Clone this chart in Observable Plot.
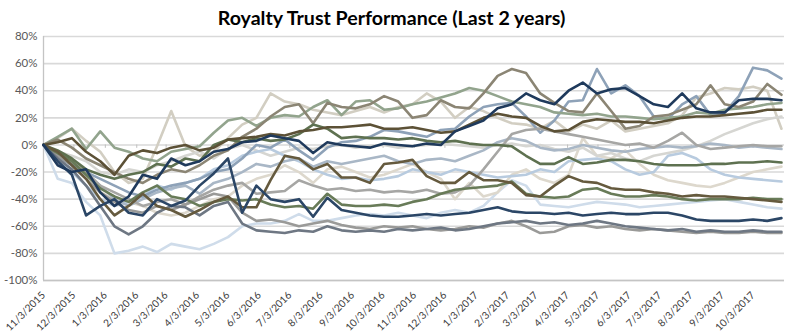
<!DOCTYPE html>
<html><head><meta charset="utf-8">
<script src="https://cdn.jsdelivr.net/npm/d3@7"></script>
<script src="https://cdn.jsdelivr.net/npm/@observablehq/plot@0.6"></script>
<style>
body{margin:0;background:#fff;}
#wrap{position:relative;width:798px;height:336px;}
#title{position:absolute;left:0;top:6px;width:783px;text-align:center;font-family:Lato,sans-serif;font-weight:bold;font-size:19.6px;color:#000;}
</style></head><body>
<div id="wrap"><div id="title">Royalty Trust Performance (Last 2 years)</div><div id="chart"></div></div>
<script>
// x categories: biweekly closes starting 11/3/2015
const startDate = "2015-11-03";
const pointCount = 53;
const stepDays = 14;
const tickLabels = ["11/3/2015","12/3/2015","1/3/2016","2/3/2016","3/3/2016","4/3/2016","5/3/2016","6/3/2016","7/3/2016","8/3/2016","9/3/2016","10/3/2016","11/3/2016","12/3/2016","1/3/2017","2/3/2017","3/3/2017","4/3/2017","5/3/2017","6/3/2017","7/3/2017","8/3/2017","9/3/2017","10/3/2017"];
const yTicks = [-100,-80,-60,-40,-20,0,20,40,60,80];

// performance (%) per series
const sA = [0,-15,-20,-18,-35,-45,-38,-22,-25,-10, -15,-12,-5,-3,2,3,7,5,3,-6, 2,0,-1,-2,1,0,-1,1,0,10, 14,18,27,30,38,33,30,40,46,38, 41,42,36,30,28,38,27,24,24,33, 34,34,33];
const sB = [0,-12,-22,-52,-45,-40,-50,-52,-40,-45, -41,-30,-21,-10,-50,-30,-40,-42,-40,-53, -39,-48,-50,-52,-53,-53,-52,-51,-52,-51, -50,-48,-46,-49,-50,-50,-51,-50,-52,-51, -50,-51,-51,-50,-50,-52,-55,-56,-56,-56, -55,-56,-54];
const sC = [0,-8,-15,-20,-25,-30,-35,-38,-33,-30, -28,-25,-20,-18,-10,0,-2,4,-4,-11, -2,2,3,6,11,10,8,6,11,12, 21,28,30,31,21,9,18,32,33,56, 38,44,36,21,19,30,36,22,24,36, 57,55,49];
const sD = [0,4,-2,-10,-15,-20,-25,-28,-22,-18, -20,-15,-8,-4,6,12,21,28,30,16, 31,28,27,30,36,32,20,22,33,28, 27,38,51,56,53,38,31,25,24,38, 25,12,14,21,22,26,30,44,30,28, 32,45,37];
const sE = [0,6,12,-3,10,-2,-5,-10,-12,-5, -3,-1,9,18,20,14,20,22,21,28, 33,22,32,33,26,27,30,32,35,38, 42,40,36,32,30,28,24,23,22,23, 21,21,20,19,20,21,24,23,26,27, 28,30,31];
const sF = [0,2,5,-5,-12,-22,-8,-4,-6,-2, 0,-4,-2,4,5,6,8,7,10,11, 13,13,14,15,12,12,13,11,9,10, 15,20,23,21,20,14,10,11,17,19, 18,17,17,16,18,20,21,21,22,23, 24,26,26];
const sG = [0,5,12,3,-5,-20,-28,-25,-1,25, -1,-8,-5,5,15,20,38,32,30,26, 24,22,25,28,24,28,30,38,32,20, 28,25,20,16,15,12,18,10,15,12, 18,10,12,14,16,22,35,38,42,41, 43,40,12];
const sH = [0,-5,-8,-12,-20,-22,-18,-20,-15,-12, -8,-5,-10,-3,0,-4,-8,-5,-2,-3, -1,0,-2,-1,0,-2,-1,0,1,0, -1,-2,0,1,-1,0,-3,-5,-2,-8, -6,-10,-12,-8,-6,-4,-1,3,8,12, 16,19,21];
const sI = [0,-5,-12,-20,-30,-35,-40,-45,-42,-40, -44,-38,-33,-30,-28,-36,-35,-34,-26,-30, -33,-32,-34,-33,-35,-34,-35,-33,-36,-35, -30,-18,-5,8,11,12,10,8,6,4, 2,0,1,-2,3,9,0,-3,-2,-1, 0,-1,-1];
const sJ = [0,-4,-10,-18,-22,-25,-22,-20,-14,-16, -10,-12,0,4,2,5,3,4,8,15, 12,5,6,5,5,4,5,3,2,3, 1,0,0,-1,-8,-14,-14,-9,-14,-13, -11,-11,-12,-14,-15,-15,-15,-14,-14,-13, -13,-12,-13];
const sK = [0,-8,-15,-25,-35,-40,-42,-45,-50,-52, -50,-45,-40,-38,-30,-25,-22,-15,-20,-28, -18,-16,-20,-24,-22,-18,-14,-20,-25,-40, -28,-38,-35,-22,-18,-25,-28,-22,5,-8, -10,-4,-14,-22,-26,-28,-30,-31,-28,-24, -20,-18,-16];
const sL = [0,-10,-20,-30,-40,-45,-42,-38,-30,-33, -28,-25,-18,-15,-8,-5,-3,-8,-12,-18, -22,-25,-24,-26,-25,-23,-18,-20,-22,-18, -20,-22,-24,-23,-22,-18,-20,-12,-11,-10, -12,-18,-22,-20,-8,-6,-10,-18,-22,-24, -25,-26,-27];
const sM = [0,-5,-15,-25,-40,-52,-45,-36,-45,-48, -53,-48,-42,-38,-46,-46,-26,-8,-10,-18, -14,-24,-24,-28,-14,-13,-11,-23,-28,-28, -20,-26,-26,-28,-37,-38,-30,-23,-27,-28, -32,-33,-33,-35,-36,-38,-37,-38,-38,-39, -40,-41,-42];
const sN = [0,-25,-28,-42,-52,-80,-78,-75,-79,-73, -75,-77,-73,-68,-60,-58,-58,-56,-51,-56, -56,-54,-52,-51,-52,-50,-52,-54,-50,-48, -50,-45,-35,-26,-30,-44,-45,-46,-44,-42, -43,-44,-46,-45,-44,-43,-42,-41,-40,-42, -44,-46,-47];
const sO = [0,-10,-18,-30,-45,-60,-66,-60,-50,-45, -46,-52,-45,-42,-58,-63,-64,-65,-63,-64, -60,-63,-64,-63,-64,-62,-63,-62,-61,-63, -62,-60,-58,-57,-56,-58,-57,-59,-58,-56, -58,-60,-61,-62,-63,-62,-64,-63,-64,-64, -63,-64,-64];
const sP = [0,-8,-15,-25,-35,-42,-48,-50,-45,-48, -44,-40,-36,-38,-50,-56,-55,-57,-60,-58, -56,-59,-61,-62,-60,-61,-60,-62,-63,-62, -60,-61,-58,-56,-60,-65,-64,-60,-59,-61, -60,-62,-63,-62,-63,-64,-65,-64,-65,-65, -64,-65,-65];
const sQ = [0,-6,-12,-22,-32,-38,-42,-35,-30,-38, -40,-45,-42,-40,-41,-40,-44,-46,-45,-47, -36,-44,-45,-45,-44,-45,-42,-40,-36,-33, -32,-31,-30,-27,-36,-38,-39,-38,-33,-32, -36,-38,-38,-37,-38,-40,-41,-40,-40,-40, -39,-40,-40];
const sR = [0,-10,-14,-22,-30,-40,-45,-40,-35,-32, -30,-36,-28,-25,-20,-14,-16,-12,-10,-16, -12,-14,-12,-10,-8,-12,-14,-11,-10,-12, -8,-4,2,5,3,-2,-4,-3,0,-2, -4,-5,-3,-2,-1,-2,-1,1,0,-2, -1,-2,-3];

const seriesNames = ["N","K","G","H","L","R","C","I","P","E","D","O","Q","J","M","F","B","A"];
const seriesColors = ["#CFDCEA","#DDD8CD","#D2CEC2","#D6D6D2","#B8CBDF","#A9B7C6","#8EA2B8","#A6A6A4","#9A9A98","#92A48D","#8B8574","#6E7783","#687B58","#5E7150","#655A3E","#5C5136","#2B4666","#1F3A5C"];
const seriesValues = {A:sA,B:sB,C:sC,D:sD,E:sE,F:sF,G:sG,H:sH,I:sI,J:sJ,K:sK,L:sL,M:sM,N:sN,O:sO,P:sP,Q:sQ,R:sR};

const start = new Date(startDate + "T00:00:00Z");
const dates = d3.range(pointCount).map(k => d3.utcDay.offset(start, k * stepDays));
const parseLabel = s => { const [m,d,y] = s.split("/").map(Number); return new Date(Date.UTC(y, m-1, d)); };
const tickDates = tickLabels.map(parseLabel);
const fmt = d => `${d.getUTCMonth()+1}/${d.getUTCDate()}/${d.getUTCFullYear()}`;

const table = [];
for (const name of seriesNames) {
  seriesValues[name].forEach((v, k) => table.push({series: name, date: dates[k], value: v}));
}

const chart = Plot.plot({
  width: 798, height: 336,
  marginTop: 36, marginBottom: 56, marginLeft: 43, marginRight: 14,
  style: {fontFamily: "Lato, sans-serif", fontSize: "11.5px", color: "#595959", background: "#fff"},
  x: {type: "utc", domain: [parseLabel("11/3/2015"), parseLabel("11/3/2017")]},
  y: {domain: [-100, 80]},
  color: {domain: seriesNames, range: seriesColors},
  marks: [
    Plot.ruleY(yTicks, {stroke: "#D9D9D9", strokeWidth: 1.6}),
    Plot.ruleY([-100], {stroke: "#C4C4C4", strokeWidth: 1.3}),
    Plot.ruleX([tickDates[0]], {stroke: "#C4C4C4", strokeWidth: 1.3}),
    Plot.ruleX(tickDates, {y1: 0, y2: -2.5, stroke: "#BFBFBF", strokeWidth: 1}),
    Plot.line(table, {x: "date", y: "value", z: "series", stroke: "series", strokeWidth: 2.6, strokeLinejoin: "round", strokeLinecap: "round"}),
    Plot.axisY(yTicks, {tickSize: 0, tickPadding: 6, tickFormat: d => d + "%", fill: "#595959", label: null}),
    Plot.axisX(tickDates, {tickSize: 0, tickPadding: 13, tickRotate: -45, tickFormat: fmt, fill: "#404040", fontSize: 10.2, label: null})
  ]
});
document.getElementById("chart").appendChild(chart);
</script>
</body></html>
